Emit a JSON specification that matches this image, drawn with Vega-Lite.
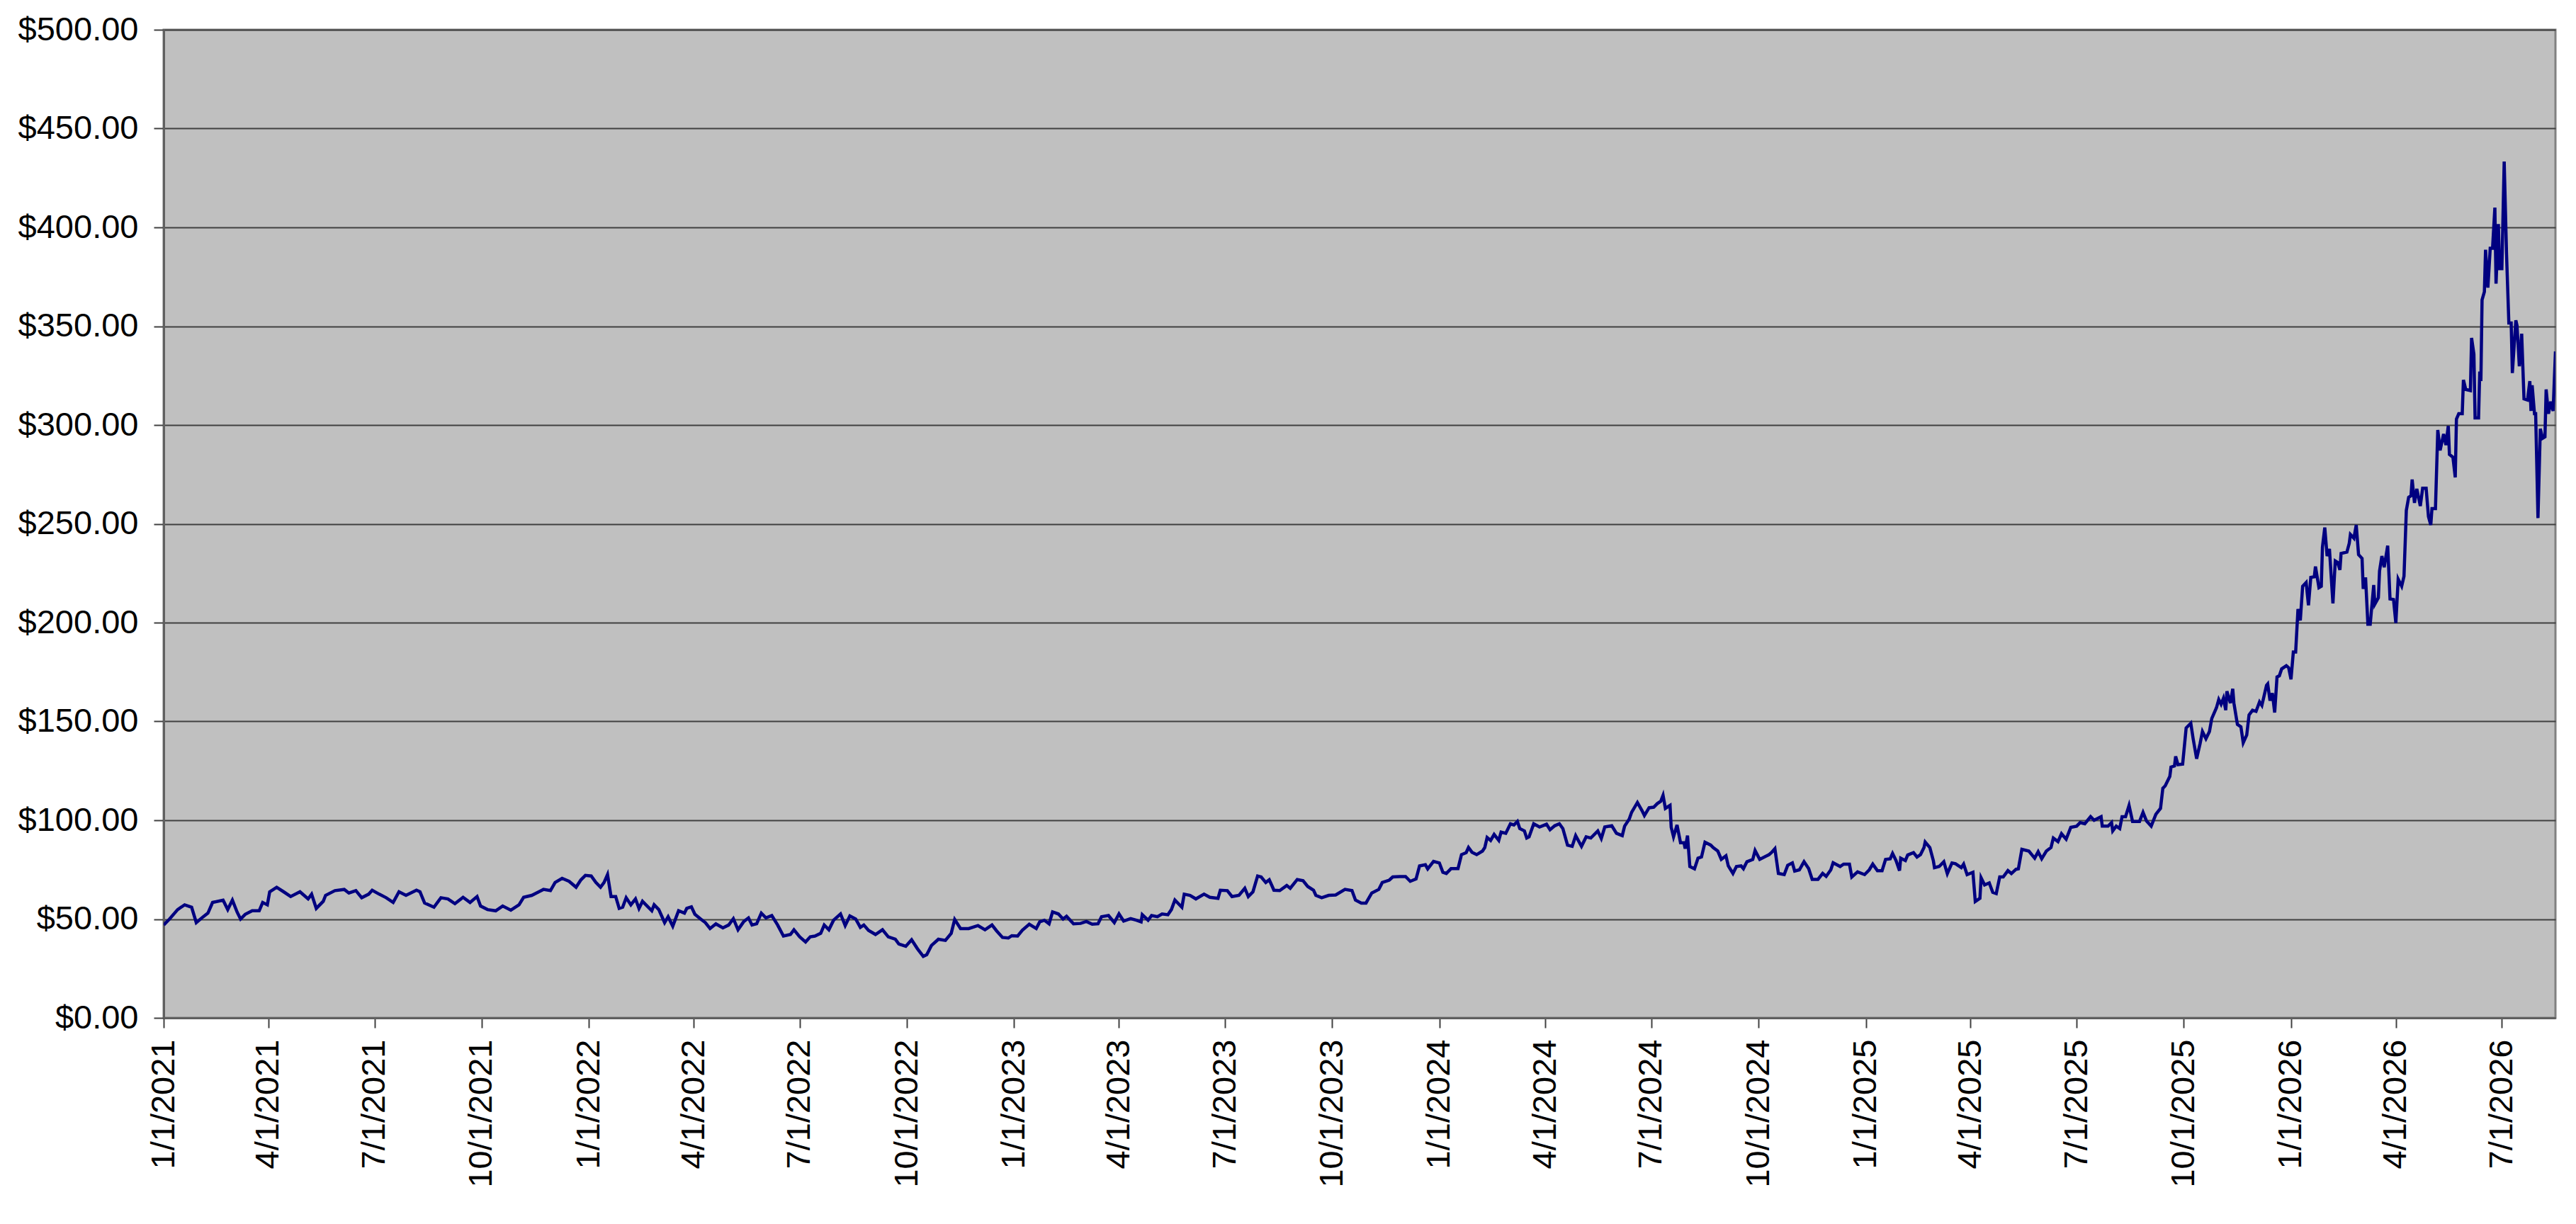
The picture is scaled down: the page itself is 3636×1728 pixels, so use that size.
{
  "$schema": "https://vega.github.io/schema/vega-lite/v6.json",
  "width": 3376,
  "height": 1395,
  "autosize": {"type": "none"},
  "padding": {"left": 231, "top": 42, "right": 29, "bottom": 291},
  "background": "white",
  "config": {
    "view": {"fill": "#C0C0C0", "stroke": "#808080", "strokeWidth": 3},
    "axis": {
      "labelFont": "Liberation Sans",
      "labelFontSize": 47,
      "labelColor": "black",
      "labelLimit": 0,
      "tickColor": "#404040",
      "tickWidth": 2,
      "tickSize": 14,
      "domainColor": "#606060",
      "domainWidth": 3,
      "gridColor": "#404040",
      "gridWidth": 2
    }
  },
  "data": {
    "values": [
      {"date": "2021-01-01", "price": 47.0},
      {"date": "2021-01-06", "price": 50.0},
      {"date": "2021-01-13", "price": 54.8},
      {"date": "2021-01-19", "price": 57.2},
      {"date": "2021-01-25", "price": 56.0},
      {"date": "2021-01-29", "price": 48.2},
      {"date": "2021-02-04", "price": 51.2},
      {"date": "2021-02-08", "price": 53.0},
      {"date": "2021-02-12", "price": 58.4},
      {"date": "2021-02-21", "price": 59.6},
      {"date": "2021-02-25", "price": 54.8},
      {"date": "2021-03-01", "price": 59.6},
      {"date": "2021-03-05", "price": 53.6},
      {"date": "2021-03-08", "price": 50.0},
      {"date": "2021-03-12", "price": 52.4},
      {"date": "2021-03-18", "price": 54.2},
      {"date": "2021-03-24", "price": 54.2},
      {"date": "2021-03-27", "price": 58.4},
      {"date": "2021-03-31", "price": 57.2},
      {"date": "2021-04-02", "price": 63.8},
      {"date": "2021-04-08", "price": 66.1},
      {"date": "2021-04-14", "price": 63.8},
      {"date": "2021-04-20", "price": 61.4},
      {"date": "2021-04-28", "price": 63.8},
      {"date": "2021-05-05", "price": 60.2},
      {"date": "2021-05-08", "price": 62.6},
      {"date": "2021-05-12", "price": 55.4},
      {"date": "2021-05-18", "price": 59.0},
      {"date": "2021-05-20", "price": 62.0},
      {"date": "2021-05-28", "price": 64.4},
      {"date": "2021-06-05", "price": 65.0},
      {"date": "2021-06-09", "price": 63.2},
      {"date": "2021-06-15", "price": 64.4},
      {"date": "2021-06-20", "price": 60.8},
      {"date": "2021-06-26", "price": 62.6},
      {"date": "2021-06-29", "price": 64.6},
      {"date": "2021-07-05", "price": 62.6},
      {"date": "2021-07-11", "price": 60.8},
      {"date": "2021-07-17", "price": 58.4},
      {"date": "2021-07-22", "price": 63.8},
      {"date": "2021-07-28", "price": 62.0},
      {"date": "2021-08-06", "price": 64.6},
      {"date": "2021-08-09", "price": 63.8},
      {"date": "2021-08-13", "price": 58.1},
      {"date": "2021-08-21", "price": 56.0},
      {"date": "2021-08-27", "price": 60.8},
      {"date": "2021-09-02", "price": 60.2},
      {"date": "2021-09-08", "price": 57.8},
      {"date": "2021-09-15", "price": 61.0},
      {"date": "2021-09-21", "price": 58.4},
      {"date": "2021-09-27", "price": 61.4},
      {"date": "2021-09-30", "price": 56.6},
      {"date": "2021-10-06", "price": 54.8},
      {"date": "2021-10-13", "price": 54.2},
      {"date": "2021-10-19", "price": 56.6},
      {"date": "2021-10-26", "price": 54.5},
      {"date": "2021-11-02", "price": 57.2},
      {"date": "2021-11-06", "price": 61.0},
      {"date": "2021-11-13", "price": 62.0},
      {"date": "2021-11-23", "price": 65.0},
      {"date": "2021-11-29", "price": 64.4},
      {"date": "2021-12-03", "price": 68.5},
      {"date": "2021-12-09", "price": 70.6},
      {"date": "2021-12-15", "price": 69.1},
      {"date": "2021-12-21", "price": 66.1},
      {"date": "2021-12-25", "price": 69.7},
      {"date": "2021-12-29", "price": 72.1},
      {"date": "2022-01-03", "price": 71.8},
      {"date": "2022-01-07", "price": 68.5},
      {"date": "2022-01-11", "price": 66.1},
      {"date": "2022-01-14", "price": 68.5},
      {"date": "2022-01-17", "price": 72.5},
      {"date": "2022-01-20", "price": 61.4},
      {"date": "2022-01-24", "price": 61.4},
      {"date": "2022-01-27", "price": 55.4},
      {"date": "2022-01-30", "price": 56.0},
      {"date": "2022-02-02", "price": 60.8},
      {"date": "2022-02-06", "price": 57.2},
      {"date": "2022-02-10", "price": 60.2},
      {"date": "2022-02-13", "price": 55.4},
      {"date": "2022-02-16", "price": 59.0},
      {"date": "2022-02-20", "price": 56.6},
      {"date": "2022-02-24", "price": 54.2},
      {"date": "2022-02-26", "price": 57.2},
      {"date": "2022-03-02", "price": 54.8},
      {"date": "2022-03-07", "price": 48.2},
      {"date": "2022-03-10", "price": 51.2},
      {"date": "2022-03-14", "price": 46.4},
      {"date": "2022-03-19", "price": 54.2},
      {"date": "2022-03-24", "price": 53.0},
      {"date": "2022-03-26", "price": 55.4},
      {"date": "2022-03-30", "price": 56.2},
      {"date": "2022-04-02", "price": 52.4},
      {"date": "2022-04-07", "price": 50.0},
      {"date": "2022-04-11", "price": 48.2},
      {"date": "2022-04-15", "price": 45.2},
      {"date": "2022-04-20", "price": 47.6},
      {"date": "2022-04-26", "price": 45.5},
      {"date": "2022-05-01", "price": 47.0},
      {"date": "2022-05-05", "price": 50.2},
      {"date": "2022-05-09", "price": 44.6},
      {"date": "2022-05-14", "price": 48.8},
      {"date": "2022-05-18", "price": 50.6},
      {"date": "2022-05-21", "price": 47.0},
      {"date": "2022-05-25", "price": 47.6},
      {"date": "2022-05-29", "price": 53.0},
      {"date": "2022-06-02", "price": 50.6},
      {"date": "2022-06-07", "price": 51.8},
      {"date": "2022-06-12", "price": 47.0},
      {"date": "2022-06-17", "price": 41.4},
      {"date": "2022-06-23", "price": 42.2},
      {"date": "2022-06-26", "price": 44.6},
      {"date": "2022-07-01", "price": 41.0},
      {"date": "2022-07-06", "price": 38.4},
      {"date": "2022-07-10", "price": 41.0},
      {"date": "2022-07-14", "price": 41.4},
      {"date": "2022-07-19", "price": 42.8},
      {"date": "2022-07-22", "price": 47.0},
      {"date": "2022-07-26", "price": 44.6},
      {"date": "2022-07-30", "price": 49.4},
      {"date": "2022-08-05", "price": 52.6},
      {"date": "2022-08-09", "price": 46.7},
      {"date": "2022-08-13", "price": 51.6},
      {"date": "2022-08-18", "price": 50.0},
      {"date": "2022-08-22", "price": 45.8},
      {"date": "2022-08-25", "price": 47.0},
      {"date": "2022-08-29", "price": 44.3},
      {"date": "2022-09-04", "price": 42.2},
      {"date": "2022-09-10", "price": 44.6},
      {"date": "2022-09-15", "price": 41.0},
      {"date": "2022-09-21", "price": 39.8},
      {"date": "2022-09-24", "price": 37.4},
      {"date": "2022-09-30", "price": 36.2},
      {"date": "2022-10-05", "price": 39.5},
      {"date": "2022-10-10", "price": 35.0},
      {"date": "2022-10-15", "price": 31.1},
      {"date": "2022-10-18", "price": 32.0},
      {"date": "2022-10-22", "price": 36.6},
      {"date": "2022-10-28", "price": 39.8},
      {"date": "2022-11-03", "price": 39.2},
      {"date": "2022-11-08", "price": 42.8},
      {"date": "2022-11-11", "price": 49.8},
      {"date": "2022-11-16", "price": 45.2},
      {"date": "2022-11-23", "price": 45.2},
      {"date": "2022-12-01", "price": 46.7},
      {"date": "2022-12-07", "price": 44.6},
      {"date": "2022-12-13", "price": 47.0},
      {"date": "2022-12-17", "price": 44.0},
      {"date": "2022-12-22", "price": 40.7},
      {"date": "2022-12-27", "price": 40.4},
      {"date": "2022-12-30", "price": 41.6},
      {"date": "2023-01-04", "price": 41.4},
      {"date": "2023-01-08", "price": 44.3},
      {"date": "2023-01-14", "price": 47.4},
      {"date": "2023-01-20", "price": 45.2},
      {"date": "2023-01-23", "price": 48.6},
      {"date": "2023-01-27", "price": 49.4},
      {"date": "2023-01-31", "price": 47.6},
      {"date": "2023-02-03", "price": 53.6},
      {"date": "2023-02-08", "price": 52.6},
      {"date": "2023-02-12", "price": 50.0},
      {"date": "2023-02-15", "price": 51.4},
      {"date": "2023-02-21", "price": 47.6},
      {"date": "2023-02-27", "price": 47.8},
      {"date": "2023-03-04", "price": 48.8},
      {"date": "2023-03-09", "price": 47.4},
      {"date": "2023-03-14", "price": 47.6},
      {"date": "2023-03-17", "price": 51.2},
      {"date": "2023-03-23", "price": 51.8},
      {"date": "2023-03-28", "price": 48.2},
      {"date": "2023-04-01", "price": 52.6},
      {"date": "2023-04-05", "price": 49.0},
      {"date": "2023-04-11", "price": 50.2},
      {"date": "2023-04-16", "price": 49.4},
      {"date": "2023-04-20", "price": 48.6},
      {"date": "2023-04-21", "price": 52.2},
      {"date": "2023-04-26", "price": 49.4},
      {"date": "2023-04-29", "price": 51.8},
      {"date": "2023-05-04", "price": 51.2},
      {"date": "2023-05-08", "price": 52.6},
      {"date": "2023-05-13", "price": 52.2},
      {"date": "2023-05-16", "price": 54.8},
      {"date": "2023-05-19", "price": 59.6},
      {"date": "2023-05-25", "price": 56.0},
      {"date": "2023-05-27", "price": 62.6},
      {"date": "2023-06-01", "price": 62.0},
      {"date": "2023-06-06", "price": 60.2},
      {"date": "2023-06-13", "price": 62.6},
      {"date": "2023-06-18", "price": 61.0},
      {"date": "2023-06-25", "price": 60.5},
      {"date": "2023-06-27", "price": 64.6},
      {"date": "2023-07-03", "price": 64.4},
      {"date": "2023-07-07", "price": 61.4},
      {"date": "2023-07-13", "price": 62.0},
      {"date": "2023-07-18", "price": 65.6},
      {"date": "2023-07-21", "price": 61.4},
      {"date": "2023-07-25", "price": 63.8},
      {"date": "2023-07-29", "price": 71.8},
      {"date": "2023-08-01", "price": 71.3},
      {"date": "2023-08-05", "price": 68.5},
      {"date": "2023-08-08", "price": 69.9},
      {"date": "2023-08-12", "price": 64.6},
      {"date": "2023-08-17", "price": 64.4},
      {"date": "2023-08-23", "price": 67.0},
      {"date": "2023-08-26", "price": 65.6},
      {"date": "2023-09-01", "price": 70.0},
      {"date": "2023-09-06", "price": 69.4},
      {"date": "2023-09-10", "price": 66.5},
      {"date": "2023-09-15", "price": 64.6},
      {"date": "2023-09-17", "price": 62.0},
      {"date": "2023-09-22", "price": 60.8},
      {"date": "2023-09-28", "price": 62.0},
      {"date": "2023-10-04", "price": 62.2},
      {"date": "2023-10-12", "price": 65.0},
      {"date": "2023-10-18", "price": 64.4},
      {"date": "2023-10-21", "price": 59.6},
      {"date": "2023-10-26", "price": 58.1},
      {"date": "2023-10-30", "price": 58.1},
      {"date": "2023-11-04", "price": 63.2},
      {"date": "2023-11-10", "price": 65.0},
      {"date": "2023-11-13", "price": 68.5},
      {"date": "2023-11-19", "price": 69.7},
      {"date": "2023-11-22", "price": 71.3},
      {"date": "2023-11-28", "price": 71.5},
      {"date": "2023-12-03", "price": 71.5},
      {"date": "2023-12-07", "price": 69.1},
      {"date": "2023-12-12", "price": 70.3},
      {"date": "2023-12-15", "price": 76.9},
      {"date": "2023-12-20", "price": 77.5},
      {"date": "2023-12-22", "price": 75.4},
      {"date": "2023-12-27", "price": 79.2},
      {"date": "2024-01-01", "price": 78.4},
      {"date": "2024-01-04", "price": 73.7},
      {"date": "2024-01-07", "price": 73.1},
      {"date": "2024-01-11", "price": 75.5},
      {"date": "2024-01-17", "price": 75.5},
      {"date": "2024-01-20", "price": 82.6},
      {"date": "2024-01-24", "price": 83.6},
      {"date": "2024-01-26", "price": 86.2},
      {"date": "2024-01-29", "price": 83.8},
      {"date": "2024-02-02", "price": 82.6},
      {"date": "2024-02-07", "price": 84.4},
      {"date": "2024-02-09", "price": 86.2},
      {"date": "2024-02-11", "price": 91.3},
      {"date": "2024-02-14", "price": 89.8},
      {"date": "2024-02-17", "price": 92.8},
      {"date": "2024-02-21", "price": 89.8},
      {"date": "2024-02-23", "price": 94.0},
      {"date": "2024-02-27", "price": 93.4},
      {"date": "2024-03-02", "price": 98.2},
      {"date": "2024-03-05", "price": 97.6},
      {"date": "2024-03-08", "price": 99.4},
      {"date": "2024-03-10", "price": 95.8},
      {"date": "2024-03-14", "price": 94.6},
      {"date": "2024-03-16", "price": 91.0},
      {"date": "2024-03-18", "price": 91.6},
      {"date": "2024-03-22", "price": 98.2},
      {"date": "2024-03-27", "price": 96.6},
      {"date": "2024-04-02", "price": 98.0},
      {"date": "2024-04-05", "price": 95.2},
      {"date": "2024-04-09", "price": 97.2},
      {"date": "2024-04-13", "price": 98.2},
      {"date": "2024-04-16", "price": 95.8},
      {"date": "2024-04-20", "price": 87.4},
      {"date": "2024-04-24", "price": 86.8},
      {"date": "2024-04-27", "price": 92.2},
      {"date": "2024-05-02", "price": 86.8},
      {"date": "2024-05-06", "price": 91.6},
      {"date": "2024-05-10", "price": 91.0},
      {"date": "2024-05-16", "price": 94.6},
      {"date": "2024-05-19", "price": 90.8},
      {"date": "2024-05-22", "price": 96.6},
      {"date": "2024-05-28", "price": 97.2},
      {"date": "2024-06-01", "price": 93.4},
      {"date": "2024-06-06", "price": 92.2},
      {"date": "2024-06-08", "price": 97.0},
      {"date": "2024-06-12", "price": 100.6},
      {"date": "2024-06-14", "price": 104.0},
      {"date": "2024-06-19", "price": 109.0},
      {"date": "2024-06-23", "price": 104.8},
      {"date": "2024-06-25", "price": 102.4},
      {"date": "2024-06-29", "price": 106.3},
      {"date": "2024-07-03", "price": 106.6},
      {"date": "2024-07-06", "price": 108.4},
      {"date": "2024-07-09", "price": 109.6},
      {"date": "2024-07-11", "price": 112.6},
      {"date": "2024-07-13", "price": 106.0},
      {"date": "2024-07-17", "price": 107.5},
      {"date": "2024-07-18", "price": 96.4},
      {"date": "2024-07-20", "price": 91.6},
      {"date": "2024-07-23", "price": 97.6},
      {"date": "2024-07-26", "price": 88.6},
      {"date": "2024-07-29", "price": 88.6},
      {"date": "2024-07-30", "price": 85.6},
      {"date": "2024-08-01", "price": 92.2},
      {"date": "2024-08-03", "price": 76.6},
      {"date": "2024-08-07", "price": 75.4},
      {"date": "2024-08-10", "price": 80.8},
      {"date": "2024-08-13", "price": 81.4},
      {"date": "2024-08-16", "price": 88.9},
      {"date": "2024-08-21", "price": 87.4},
      {"date": "2024-08-23", "price": 86.2},
      {"date": "2024-08-27", "price": 84.4},
      {"date": "2024-08-30", "price": 80.2},
      {"date": "2024-09-03", "price": 82.0},
      {"date": "2024-09-05", "price": 76.9},
      {"date": "2024-09-09", "price": 73.1},
      {"date": "2024-09-12", "price": 76.6},
      {"date": "2024-09-16", "price": 76.9},
      {"date": "2024-09-18", "price": 75.5},
      {"date": "2024-09-21", "price": 79.0},
      {"date": "2024-09-26", "price": 80.2},
      {"date": "2024-09-28", "price": 84.7},
      {"date": "2024-10-02", "price": 80.2},
      {"date": "2024-10-07", "price": 81.7},
      {"date": "2024-10-10", "price": 82.6},
      {"date": "2024-10-12", "price": 83.6},
      {"date": "2024-10-15", "price": 85.6},
      {"date": "2024-10-18", "price": 73.1},
      {"date": "2024-10-23", "price": 72.5},
      {"date": "2024-10-26", "price": 77.2},
      {"date": "2024-10-30", "price": 78.4},
      {"date": "2024-11-01", "price": 74.3},
      {"date": "2024-11-05", "price": 74.9},
      {"date": "2024-11-09", "price": 79.0},
      {"date": "2024-11-13", "price": 75.5},
      {"date": "2024-11-16", "price": 70.1},
      {"date": "2024-11-21", "price": 70.1},
      {"date": "2024-11-25", "price": 73.1},
      {"date": "2024-11-28", "price": 71.6},
      {"date": "2024-12-02", "price": 74.9},
      {"date": "2024-12-04", "price": 78.5},
      {"date": "2024-12-10", "price": 76.6},
      {"date": "2024-12-13", "price": 77.8},
      {"date": "2024-12-18", "price": 77.8},
      {"date": "2024-12-20", "price": 71.3},
      {"date": "2024-12-25", "price": 73.9},
      {"date": "2024-12-31", "price": 72.5},
      {"date": "2025-01-04", "price": 74.9},
      {"date": "2025-01-07", "price": 77.8},
      {"date": "2025-01-11", "price": 74.5},
      {"date": "2025-01-15", "price": 74.5},
      {"date": "2025-01-18", "price": 80.2},
      {"date": "2025-01-22", "price": 80.5},
      {"date": "2025-01-24", "price": 83.2},
      {"date": "2025-01-27", "price": 79.6},
      {"date": "2025-01-30", "price": 74.5},
      {"date": "2025-01-31", "price": 80.8},
      {"date": "2025-02-04", "price": 79.6},
      {"date": "2025-02-06", "price": 82.4},
      {"date": "2025-02-11", "price": 83.6},
      {"date": "2025-02-14", "price": 81.4},
      {"date": "2025-02-17", "price": 82.6},
      {"date": "2025-02-20", "price": 86.2},
      {"date": "2025-02-21", "price": 89.0},
      {"date": "2025-02-25", "price": 86.2},
      {"date": "2025-02-28", "price": 79.6},
      {"date": "2025-03-01", "price": 76.0},
      {"date": "2025-03-05", "price": 76.6},
      {"date": "2025-03-09", "price": 79.0},
      {"date": "2025-03-12", "price": 73.0},
      {"date": "2025-03-16", "price": 78.4},
      {"date": "2025-03-19", "price": 78.0},
      {"date": "2025-03-24", "price": 76.0},
      {"date": "2025-03-26", "price": 77.8},
      {"date": "2025-03-29", "price": 72.5},
      {"date": "2025-04-03", "price": 73.7},
      {"date": "2025-04-05", "price": 58.9},
      {"date": "2025-04-09", "price": 60.5},
      {"date": "2025-04-10", "price": 70.9},
      {"date": "2025-04-13", "price": 67.3},
      {"date": "2025-04-17", "price": 68.3},
      {"date": "2025-04-20", "price": 63.5},
      {"date": "2025-04-23", "price": 62.9},
      {"date": "2025-04-26", "price": 71.3},
      {"date": "2025-04-29", "price": 71.3},
      {"date": "2025-05-03", "price": 74.5},
      {"date": "2025-05-06", "price": 73.0},
      {"date": "2025-05-10", "price": 75.2},
      {"date": "2025-05-12", "price": 75.4},
      {"date": "2025-05-15", "price": 85.3},
      {"date": "2025-05-21", "price": 84.4},
      {"date": "2025-05-26", "price": 80.8},
      {"date": "2025-05-29", "price": 84.1},
      {"date": "2025-06-01", "price": 80.5},
      {"date": "2025-06-05", "price": 84.4},
      {"date": "2025-06-09", "price": 86.2},
      {"date": "2025-06-11", "price": 91.0},
      {"date": "2025-06-15", "price": 89.2},
      {"date": "2025-06-18", "price": 93.2},
      {"date": "2025-06-22", "price": 90.4},
      {"date": "2025-06-26", "price": 96.4},
      {"date": "2025-07-01", "price": 97.0},
      {"date": "2025-07-04", "price": 98.8},
      {"date": "2025-07-08", "price": 98.2},
      {"date": "2025-07-13", "price": 101.8},
      {"date": "2025-07-16", "price": 100.0},
      {"date": "2025-07-22", "price": 101.8},
      {"date": "2025-07-23", "price": 97.0},
      {"date": "2025-07-28", "price": 97.0},
      {"date": "2025-07-31", "price": 98.8},
      {"date": "2025-08-01", "price": 94.6},
      {"date": "2025-08-04", "price": 97.0},
      {"date": "2025-08-07", "price": 95.8},
      {"date": "2025-08-09", "price": 101.8},
      {"date": "2025-08-12", "price": 101.8},
      {"date": "2025-08-15", "price": 107.5},
      {"date": "2025-08-18", "price": 99.4},
      {"date": "2025-08-21", "price": 99.4},
      {"date": "2025-08-24", "price": 99.4},
      {"date": "2025-08-27", "price": 104.0},
      {"date": "2025-08-30", "price": 99.6},
      {"date": "2025-09-03", "price": 97.0},
      {"date": "2025-09-07", "price": 103.0},
      {"date": "2025-09-11", "price": 106.0},
      {"date": "2025-09-13", "price": 116.2},
      {"date": "2025-09-15", "price": 117.4},
      {"date": "2025-09-19", "price": 122.2},
      {"date": "2025-09-20", "price": 126.9},
      {"date": "2025-09-23", "price": 127.5},
      {"date": "2025-09-24", "price": 132.3},
      {"date": "2025-09-26", "price": 128.1},
      {"date": "2025-09-30", "price": 128.4},
      {"date": "2025-10-03", "price": 146.7},
      {"date": "2025-10-07", "price": 149.1},
      {"date": "2025-10-09", "price": 141.3},
      {"date": "2025-10-12", "price": 131.1},
      {"date": "2025-10-15", "price": 138.9},
      {"date": "2025-10-17", "price": 144.9},
      {"date": "2025-10-20", "price": 141.3},
      {"date": "2025-10-23", "price": 144.9},
      {"date": "2025-10-25", "price": 151.5},
      {"date": "2025-10-29", "price": 156.9},
      {"date": "2025-10-31", "price": 161.1},
      {"date": "2025-11-02", "price": 158.7},
      {"date": "2025-11-04", "price": 161.7},
      {"date": "2025-11-06", "price": 155.7},
      {"date": "2025-11-07", "price": 165.3},
      {"date": "2025-11-10", "price": 159.3},
      {"date": "2025-11-12", "price": 166.5},
      {"date": "2025-11-13", "price": 159.3},
      {"date": "2025-11-16", "price": 148.5},
      {"date": "2025-11-19", "price": 147.3},
      {"date": "2025-11-21", "price": 139.2},
      {"date": "2025-11-24", "price": 143.1},
      {"date": "2025-11-26", "price": 153.3},
      {"date": "2025-11-29", "price": 155.7},
      {"date": "2025-12-02", "price": 155.1},
      {"date": "2025-12-05", "price": 159.9},
      {"date": "2025-12-07", "price": 158.1},
      {"date": "2025-12-11", "price": 168.3},
      {"date": "2025-12-12", "price": 169.0},
      {"date": "2025-12-14", "price": 160.5},
      {"date": "2025-12-16", "price": 164.3},
      {"date": "2025-12-18", "price": 154.5},
      {"date": "2025-12-20", "price": 172.5},
      {"date": "2025-12-22", "price": 173.1},
      {"date": "2025-12-24", "price": 176.6},
      {"date": "2025-12-28", "price": 178.2},
      {"date": "2025-12-30", "price": 177.2},
      {"date": "2026-01-01", "price": 171.3},
      {"date": "2026-01-03", "price": 185.1},
      {"date": "2026-01-05", "price": 185.1},
      {"date": "2026-01-07", "price": 206.9},
      {"date": "2026-01-09", "price": 201.1},
      {"date": "2026-01-11", "price": 218.4},
      {"date": "2026-01-14", "price": 220.3},
      {"date": "2026-01-16", "price": 208.8},
      {"date": "2026-01-18", "price": 222.9},
      {"date": "2026-01-21", "price": 223.2},
      {"date": "2026-01-22", "price": 228.4},
      {"date": "2026-01-25", "price": 217.7},
      {"date": "2026-01-27", "price": 218.4},
      {"date": "2026-01-28", "price": 238.2},
      {"date": "2026-01-30", "price": 248.1},
      {"date": "2026-02-01", "price": 233.7},
      {"date": "2026-02-03", "price": 237.3},
      {"date": "2026-02-06", "price": 209.7},
      {"date": "2026-02-08", "price": 231.2},
      {"date": "2026-02-10", "price": 230.5},
      {"date": "2026-02-12", "price": 226.7},
      {"date": "2026-02-13", "price": 235.0},
      {"date": "2026-02-18", "price": 235.7},
      {"date": "2026-02-20", "price": 240.1},
      {"date": "2026-02-21", "price": 244.6},
      {"date": "2026-02-24", "price": 242.7},
      {"date": "2026-02-26", "price": 249.4},
      {"date": "2026-02-28", "price": 234.4},
      {"date": "2026-03-03", "price": 232.5},
      {"date": "2026-03-04", "price": 217.1},
      {"date": "2026-03-06", "price": 222.9},
      {"date": "2026-03-08", "price": 199.2},
      {"date": "2026-03-10", "price": 199.2},
      {"date": "2026-03-13", "price": 219.0},
      {"date": "2026-03-14", "price": 209.4},
      {"date": "2026-03-17", "price": 212.6},
      {"date": "2026-03-18", "price": 226.1},
      {"date": "2026-03-20", "price": 233.7},
      {"date": "2026-03-22", "price": 228.0},
      {"date": "2026-03-25", "price": 238.9},
      {"date": "2026-03-27", "price": 212.0},
      {"date": "2026-03-30", "price": 211.7},
      {"date": "2026-04-01", "price": 199.8},
      {"date": "2026-04-03", "price": 222.0},
      {"date": "2026-04-06", "price": 218.4},
      {"date": "2026-04-08", "price": 223.5},
      {"date": "2026-04-10", "price": 256.8},
      {"date": "2026-04-12", "price": 263.4},
      {"date": "2026-04-14", "price": 264.2},
      {"date": "2026-04-15", "price": 272.4},
      {"date": "2026-04-17", "price": 260.6},
      {"date": "2026-04-19", "price": 267.7},
      {"date": "2026-04-22", "price": 259.0},
      {"date": "2026-04-24", "price": 268.0},
      {"date": "2026-04-27", "price": 268.0},
      {"date": "2026-04-29", "price": 253.6},
      {"date": "2026-05-01", "price": 249.4},
      {"date": "2026-05-02", "price": 257.7},
      {"date": "2026-05-05", "price": 257.7},
      {"date": "2026-05-07", "price": 297.5},
      {"date": "2026-05-09", "price": 287.2},
      {"date": "2026-05-12", "price": 295.4},
      {"date": "2026-05-14", "price": 289.9},
      {"date": "2026-05-16", "price": 299.5},
      {"date": "2026-05-17", "price": 285.1},
      {"date": "2026-05-20", "price": 283.7},
      {"date": "2026-05-22", "price": 273.5},
      {"date": "2026-05-23", "price": 303.0},
      {"date": "2026-05-25", "price": 305.7},
      {"date": "2026-05-28", "price": 305.7},
      {"date": "2026-05-29", "price": 322.8},
      {"date": "2026-05-31", "price": 318.0},
      {"date": "2026-06-04", "price": 317.4},
      {"date": "2026-06-05", "price": 344.1},
      {"date": "2026-06-07", "price": 335.9},
      {"date": "2026-06-08", "price": 303.6},
      {"date": "2026-06-11", "price": 303.6},
      {"date": "2026-06-12", "price": 327.0},
      {"date": "2026-06-13", "price": 322.2},
      {"date": "2026-06-14", "price": 363.3},
      {"date": "2026-06-16", "price": 367.4},
      {"date": "2026-06-17", "price": 388.7},
      {"date": "2026-06-19", "price": 369.5},
      {"date": "2026-06-21", "price": 389.4},
      {"date": "2026-06-23", "price": 389.4},
      {"date": "2026-06-25", "price": 410.0},
      {"date": "2026-06-26", "price": 371.5},
      {"date": "2026-06-28", "price": 401.7},
      {"date": "2026-06-29", "price": 379.1},
      {"date": "2026-07-01", "price": 379.1},
      {"date": "2026-07-03", "price": 433.3},
      {"date": "2026-07-05", "price": 386.6},
      {"date": "2026-07-07", "price": 351.6},
      {"date": "2026-07-09", "price": 351.6},
      {"date": "2026-07-10", "price": 326.3},
      {"date": "2026-07-13", "price": 353.0},
      {"date": "2026-07-14", "price": 350.3},
      {"date": "2026-07-16", "price": 329.7},
      {"date": "2026-07-18", "price": 346.2},
      {"date": "2026-07-20", "price": 313.2},
      {"date": "2026-07-23", "price": 312.6},
      {"date": "2026-07-25", "price": 322.2},
      {"date": "2026-07-26", "price": 307.1},
      {"date": "2026-07-27", "price": 320.1},
      {"date": "2026-07-29", "price": 305.7},
      {"date": "2026-07-30", "price": 305.7},
      {"date": "2026-08-01", "price": 252.9},
      {"date": "2026-08-03", "price": 298.1},
      {"date": "2026-08-05", "price": 293.3},
      {"date": "2026-08-07", "price": 294.0},
      {"date": "2026-08-08", "price": 318.0},
      {"date": "2026-08-10", "price": 305.7},
      {"date": "2026-08-12", "price": 311.9},
      {"date": "2026-08-14", "price": 307.1},
      {"date": "2026-08-16", "price": 337.2}
    ]
  },
  "mark": {"type": "line", "color": "#000080", "strokeWidth": 4.5, "clip": true},
  "encoding": {
    "x": {
      "field": "date",
      "type": "temporal",
      "scale": {
        "type": "utc",
        "nice": false,
        "domain": [
          {"year": 2021, "month": 1, "date": 1, "utc": true},
          {"year": 2026, "month": 8, "date": 16, "utc": true}
        ]
      },
      "axis": {
        "title": null,
        "grid": false,
        "format": "%-m/%-d/%Y",
        "tickCount": {"interval": "month", "step": 3},
        "labelAngle": 270,
        "labelAlign": "right",
        "labelBaseline": "middle",
        "labelPadding": 16,
        "labelFlush": false,
        "labelOverlap": false
      }
    },
    "y": {
      "field": "price",
      "type": "quantitative",
      "scale": {"domain": [0, 500], "nice": false},
      "axis": {
        "title": null,
        "grid": true,
        "format": "$.2f",
        "values": [0, 50, 100, 150, 200, 250, 300, 350, 400, 450, 500],
        "labelPadding": 22
      }
    }
  }
}
